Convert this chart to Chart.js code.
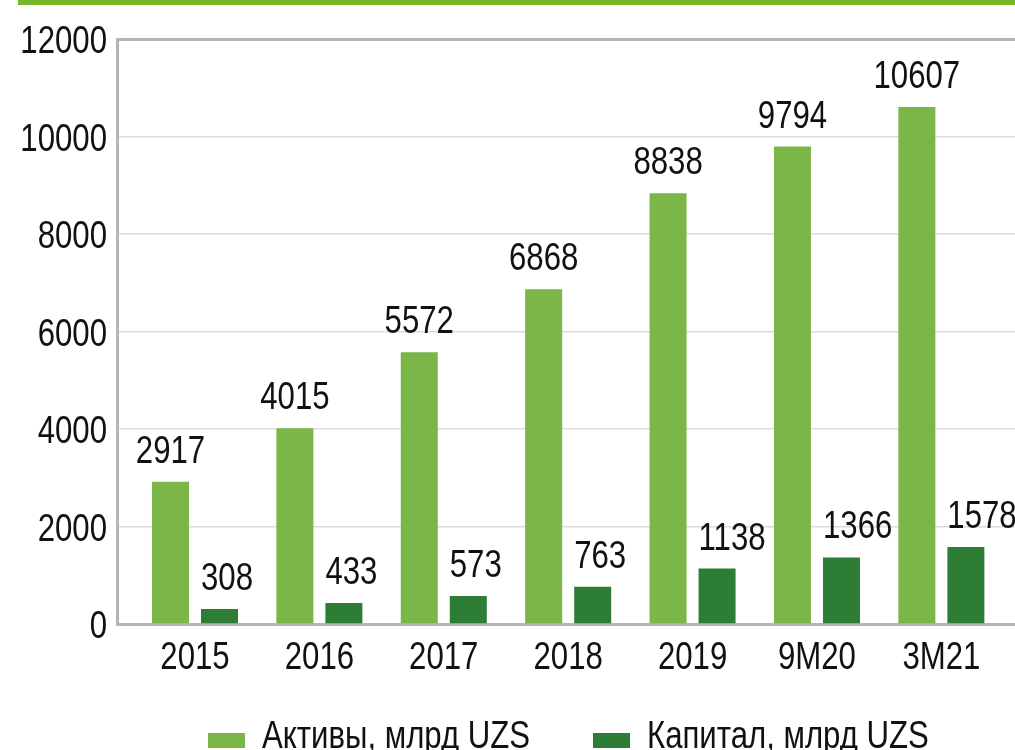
<!DOCTYPE html>
<html lang="ru">
<head>
<meta charset="utf-8">
<title>Активы и капитал</title>
<script src="https://cdn.jsdelivr.net/npm/chart.js@4.4.1/dist/chart.umd.min.js"></script>
<style>
    html, body { margin: 0; padding: 0; background: #ffffff; overflow: hidden; }
    #wrap { position: relative; width: 1015px; height: 750px; }
</style>
</head>
<body>
<div id="wrap">
    <canvas id="assetsChart" width="1015" height="750"></canvas>
</div>
<script>
// --- Dados ---
const periods = ['2015', '2016', '2017', '2018', '2019', '9M20', '3M21'];
const assets = [2917, 4015, 5572, 6868, 8838, 9794, 10607];
const capital = [308, 433, 573, 763, 1138, 1366, 1578];
const yTicks = [0, 2000, 4000, 6000, 8000, 10000, 12000];
const seriesNames = ['Активы, млрд UZS', 'Капитал, млрд UZS'];

const FONT = '38px "Liberation Sans", Arial, sans-serif';
const SX = 0.82; // fonte condensada: comprime na horizontal
const INK = '#111111';
const LIGHT = '#7ab648';
const DARK = '#2e7d37';
const AXIS = '#b5b5b5';

// escreve texto comprimido horizontalmente
function narrowText(c, text, x, y, align) {
    c.save();
    c.translate(x, y);
    c.scale(SX, 1);
    c.textAlign = align;
    c.textBaseline = 'alphabetic';
    c.fillText(text, 0, 0);
    c.restore();
}

// faixa verde no topo, rótulos dos eixos e legenda
const decorPlugin = {
    id: 'decor',
    beforeDraw(chart) {
        const c = chart.ctx;
        c.save();
        c.fillStyle = '#76b82a';
        c.fillRect(18, 0, 997, 5);
        c.restore();
    },
    afterDraw(chart) {
        const c = chart.ctx;
        const xs = chart.scales.x;
        const ys = chart.scales.y;
        c.save();
        c.font = FONT;
        c.fillStyle = INK;

        yTicks.forEach(v => {
            narrowText(c, String(v), 107, ys.getPixelForValue(v) + 14, 'right');
        });
        periods.forEach((p, i) => {
            narrowText(c, p, xs.getPixelForValue(i), 669, 'center');
        });

        const items = [
            { x: 208, color: LIGHT, text: seriesNames[0] },
            { x: 593, color: DARK, text: seriesNames[1] }
        ];
        items.forEach(it => {
            c.fillStyle = it.color;
            c.fillRect(it.x, 733, 37, 15);
            c.fillStyle = INK;
            narrowText(c, it.text, it.x + 54, 748, 'left');
        });
        c.restore();
    }
};

// rótulos de valor acima das barras
const valueLabels = {
    id: 'valueLabels',
    afterDatasetsDraw(chart) {
        const c = chart.ctx;
        c.save();
        c.font = FONT;
        c.fillStyle = INK;
        chart.data.datasets.forEach((ds, di) => {
            const meta = chart.getDatasetMeta(di);
            meta.data.forEach((bar, i) => {
                const v = String(ds.data[i].y);
                if (di === 0) {
                    narrowText(c, v, bar.x, bar.y - 19, 'center');
                } else {
                    narrowText(c, v, bar.x - bar.width / 2, bar.y - 19, 'left');
                }
            });
        });
        c.restore();
    }
};

const toPoints = arr => arr.map((v, i) => ({ x: i, y: v }));

new Chart(document.getElementById('assetsChart'), {
    type: 'bar',
    data: {
        datasets: [{
            label: seriesNames[0],
            data: toPoints(assets),
            backgroundColor: LIGHT,
            categoryPercentage: 0.788,
            barPercentage: 0.755
        }, {
            label: seriesNames[1],
            data: toPoints(capital),
            backgroundColor: DARK,
            categoryPercentage: 0.788,
            barPercentage: 0.755
        }]
    },
    options: {
        responsive: false,
        animation: false,
        layout: { padding: { left: 0, right: 0, top: 39, bottom: 66 } },
        plugins: {
            legend: { display: false },
            tooltip: { enabled: false }
        },
        scales: {
            x: {
                type: 'linear',
                offset: false,
                min: -0.627,
                max: 6.592,
                afterFit(scale) { scale.height = 60; },
                afterBuildTicks(scale) {
                    scale.ticks = periods.map((_, i) => ({ value: i }));
                },
                ticks: { display: false },
                grid: { display: false, drawTicks: false },
                border: { color: AXIS, width: 3 }
            },
            y: {
                min: 0,
                max: 12000,
                afterFit(scale) { scale.width = 117; },
                afterBuildTicks(scale) {
                    scale.ticks = yTicks.map(v => ({ value: v }));
                },
                ticks: { display: false },
                grid: {
                    drawTicks: false,
                    color: ctx => ctx.tick && ctx.tick.value === 12000 ? AXIS : '#dcdcdc',
                    lineWidth: ctx => ctx.tick && ctx.tick.value === 12000 ? 3 : 1.5
                },
                border: { color: AXIS, width: 3 }
            }
        }
    },
    plugins: [decorPlugin, valueLabels]
});
</script>
</body>
</html>
